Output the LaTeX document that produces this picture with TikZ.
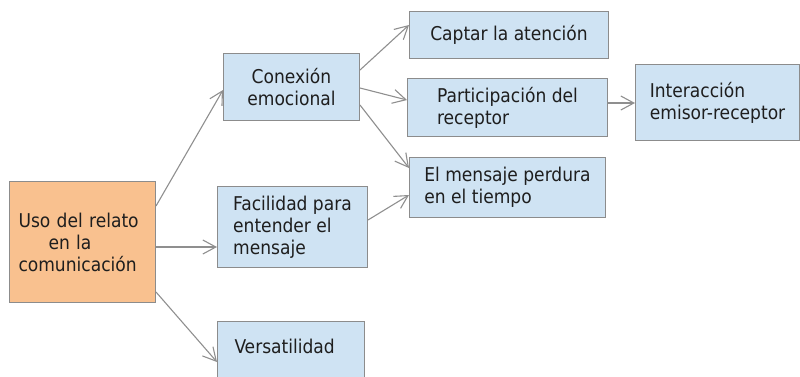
\documentclass[tikz,border=0pt]{standalone}
\usepackage{fontspec}
\setmainfont{DejaVu Sans Condensed}
\usetikzlibrary{arrows.meta,calc}
\definecolor{boxblue}{HTML}{CFE3F3}
\definecolor{boxorange}{HTML}{F9C18F}
\definecolor{edgegray}{HTML}{8C8C8C}
\definecolor{linegray}{HTML}{8F8F8F}
\definecolor{txt}{HTML}{1E1E1E}
\begin{document}
\begin{tikzpicture}[x=1pt,y=-1pt,
  box/.style={draw=edgegray, line width=1pt, fill=boxblue, anchor=north west,
    inner sep=0pt, align=left, font=\fontsize{19}{22}\selectfont, text=txt},
  conn/.style={draw=linegray, line width=1.1pt,
    -{Straight Barb[length=13pt,width=14pt]}}]
\useasboundingbox (0,0) rectangle (800,376);
\clip (0,0) rectangle (800,376);
\node[box, fill=boxorange, text width=128pt, minimum width=146pt, minimum height=121pt] (root) at (9,181)
  {Uso del relato\\\hspace*{30pt}en la\\comunicación};
\node[box, align=center, minimum width=136pt, minimum height=67pt] (conex) at (223,53)
  {Conexión\\emocional};
\node[box, minimum width=150pt, minimum height=81pt] (facil) at (217,186)
  {Facilidad para\\entender el\\mensaje};
\node[box, text width=113pt, text height=14pt, text depth=31pt,
  minimum width=147pt, minimum height=80pt] (vers) at (217,321) {Versatilidad};
\node[box, align=center, minimum width=199pt, minimum height=47pt] (captar) at (409,11)
  {Captar la atención};
\node[box, minimum width=200pt, minimum height=58pt] (partic) at (407,78)
  {Participación del\\receptor};
\node[box, minimum width=164pt, minimum height=76pt] (inter) at (635,64)
  {Interacción\\emisor-receptor};
\node[box, minimum width=196pt, minimum height=60pt] (mensaje) at (409,157)
  {El mensaje perdura\\en el tiempo};
\draw[conn] ($(root.north east)+(0,25)$) -- ($(conex.north west)+(0,37)$);
\draw[conn] ($(root.north east)+(0,66)$) -- ($(facil.north west)+(0,61)$);
\draw[conn] ($(root.north east)+(0,111)$) -- ($(vers.north west)+(0,41)$);
\draw[conn] ($(conex.north east)+(0,17)$) -- ($(captar.north west)+(0,14)$);
\draw[conn] ($(conex.north east)+(0,35)$) -- ($(partic.north west)+(0,22)$);
\draw[conn] ($(conex.north east)+(0,52)$) -- ($(mensaje.north west)+(0,11)$);
\draw[conn] ($(facil.north east)+(0,34)$) -- ($(mensaje.north west)+(0,38)$);
\draw[conn] ($(partic.north east)+(0,25)$) -- ($(inter.north west)+(0,39)$);
\end{tikzpicture}
\end{document}
